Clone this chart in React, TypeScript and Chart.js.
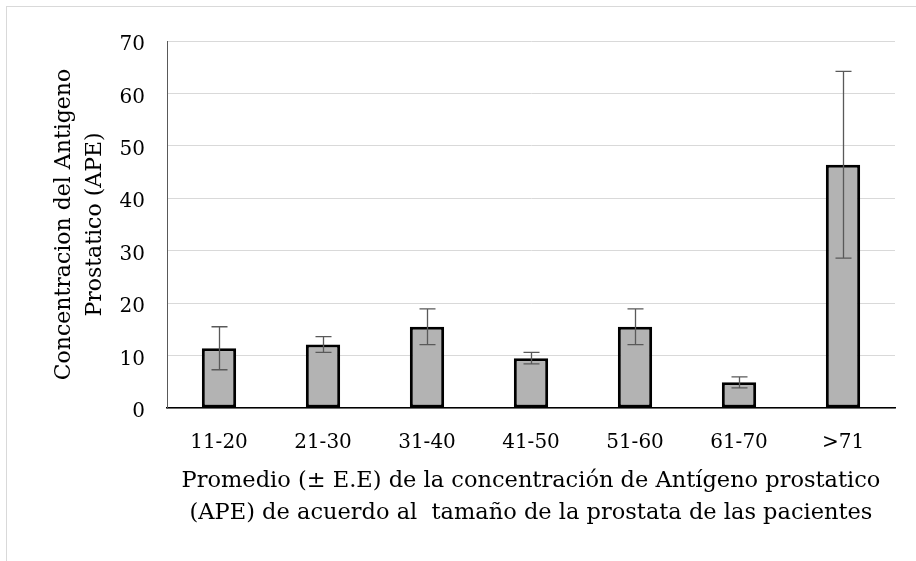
import React, { useEffect, useRef } from "react";
import { Chart, registerables } from "chart.js";

Chart.register(...registerables);

const categories = ["11-20", "21-30", "31-40", "41-50", "51-60", "61-70", ">71"];
const means = [11.4, 12.1, 15.5, 9.5, 15.5, 4.9, 46.4];
const errors = [4.1, 1.5, 3.4, 1.1, 3.4, 1.05, 17.8];
const yTitle = ["Concentracion del Antigeno", "Prostatico (APE)"];
const xTitle = [
  "Promedio (± E.E) de la concentración de Antígeno prostatico",
  "(APE) de acuerdo al  tamaño de la prostata de las pacientes",
];

const FONT = "'DejaVu Serif', serif";

const errorBarPlugin = {
  id: "errorBars",
  afterDatasetsDraw(chart: any) {
    const ctx = chart.ctx;
    const meta = chart.getDatasetMeta(0);
    const y = chart.scales.y;
    ctx.save();
    ctx.strokeStyle = "#595959";
    ctx.lineWidth = 1.3;
    meta.data.forEach((bar: any, i: number) => {
      const x = Math.round(bar.x) + 0.5;
      const top = y.getPixelForValue(means[i] + errors[i]);
      const bot = y.getPixelForValue(means[i] - errors[i]);
      ctx.beginPath();
      ctx.moveTo(x, top);
      ctx.lineTo(x, bot);
      ctx.moveTo(x - 8, top);
      ctx.lineTo(x + 8, top);
      ctx.moveTo(x - 8, bot);
      ctx.lineTo(x + 8, bot);
      ctx.stroke();
    });
    ctx.restore();
  },
};

const framePlugin = {
  id: "frame",
  beforeDraw(chart: any) {
    const ctx = chart.ctx;
    ctx.save();
    ctx.fillStyle = "#ffffff";
    ctx.fillRect(0, 0, chart.width, chart.height);
    ctx.strokeStyle = "#d9d9d9";
    ctx.lineWidth = 1;
    ctx.strokeRect(6.5, 6.5, 2000, 2000);
    ctx.restore();
  },
};

export default function App() {
  const ref = useRef<HTMLCanvasElement>(null);
  useEffect(() => {
    document.body.style.margin = "0";
    const chart = new Chart(ref.current!, {
      type: "bar",
      data: {
        labels: categories,
        datasets: [
          {
            data: means,
            backgroundColor: "#b3b3b3",
            borderColor: "#000000",
            borderWidth: 3,
            borderSkipped: false,
            barPercentage: 0.33,
            categoryPercentage: 1,
          },
        ],
      },
      options: {
        animation: false,
        responsive: false,
        layout: { padding: { left: 0, top: 41, right: 21, bottom: 0 } },
        plugins: { legend: { display: false }, tooltip: { enabled: false } },
        scales: {
          x: {
            grid: { display: false, drawTicks: false },
            border: { color: "#000000", width: 1.5 },
            ticks: { color: "#000", font: { family: FONT, size: 20 }, padding: 23 },
            title: {
              display: true,
              text: xTitle,
              color: "#000",
              font: { family: FONT, size: 22.5, lineHeight: 32 / 22.5 },
              padding: { top: 0, bottom: 32 },
            },
            afterFit(scale: any) {
              scale.height = 561 - 408;
            },
          },
          y: {
            min: 0,
            max: 70,
            ticks: { stepSize: 10, color: "#000", font: { family: FONT, size: 20 }, padding: 22, labelOffset: 4 },
            grid: { color: "#d9d9d9", drawTicks: false },
            border: { color: "#595959", width: 1 },
            title: {
              display: true,
              text: yTitle,
              color: "#000",
              font: { family: FONT, size: 22, lineHeight: 31 / 22 },
              padding: { top: 49, bottom: 0 },
            },
            afterFit(scale: any) {
              scale.width = 167;
            },
          },
        },
      },
      plugins: [framePlugin, errorBarPlugin],
    });
    return () => chart.destroy();
  }, []);
  return (
    <div style={{ position: "fixed", left: 0, top: 0, width: 916, height: 561, overflow: "hidden" }}>
      <canvas ref={ref} width={916} height={561} style={{ width: 916, height: 561, display: "block" }} />
    </div>
  );
}
